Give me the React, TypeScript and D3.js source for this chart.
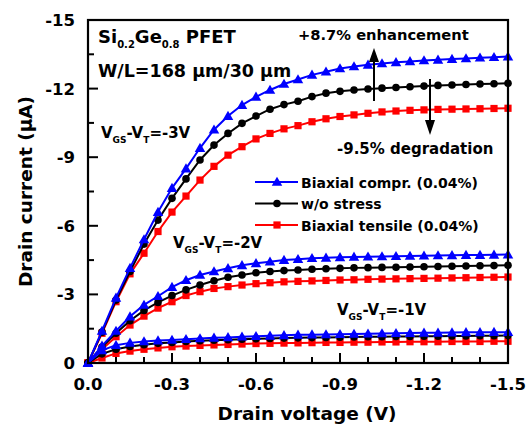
import React from "react";
import * as d3 from "d3";

const voltage = [0, -0.05, -0.1, -0.15, -0.2, -0.25, -0.3, -0.35, -0.4, -0.45, -0.5, -0.55, -0.6, -0.65, -0.7, -0.75, -0.8, -0.85, -0.9, -0.95, -1.0, -1.05, -1.1, -1.15, -1.2, -1.25, -1.3, -1.35, -1.4, -1.45, -1.5];

const compr3 = [0, -1.4, -2.85, -4.15, -5.4, -6.6, -7.65, -8.5, -9.4, -10.2, -10.8, -11.28, -11.64, -11.94, -12.2, -12.4, -12.6, -12.74, -12.88, -12.97, -13.04, -13.1, -13.15, -13.19, -13.23, -13.26, -13.29, -13.32, -13.35, -13.37, -13.4];
const none3 = [0, -1.35, -2.75, -4.0, -5.2, -6.25, -7.2, -8.05, -8.88, -9.53, -10.04, -10.48, -10.8, -11.1, -11.3, -11.45, -11.65, -11.8, -11.88, -11.94, -11.98, -12.02, -12.05, -12.08, -12.11, -12.14, -12.16, -12.18, -12.2, -12.21, -12.23];
const tens3 = [0, -1.3, -2.68, -3.9, -4.8, -5.75, -6.6, -7.3, -8.0, -8.6, -9.09, -9.46, -9.8, -10.04, -10.24, -10.38, -10.55, -10.68, -10.78, -10.85, -10.92, -10.98, -11.02, -11.05, -11.07, -11.09, -11.1, -11.11, -11.12, -11.13, -11.14];

const compr2 = [0, -0.75, -1.4, -2.03, -2.54, -2.92, -3.32, -3.62, -3.85, -4.0, -4.14, -4.27, -4.36, -4.43, -4.5, -4.54, -4.58, -4.6, -4.62, -4.64, -4.65, -4.66, -4.67, -4.68, -4.69, -4.7, -4.71, -4.72, -4.72, -4.73, -4.74];
const none2 = [0, -0.7, -1.3, -1.85, -2.3, -2.65, -2.95, -3.2, -3.41, -3.6, -3.75, -3.85, -3.95, -4.0, -4.04, -4.07, -4.1, -4.12, -4.14, -4.16, -4.17, -4.18, -4.19, -4.2, -4.21, -4.22, -4.23, -4.24, -4.25, -4.26, -4.27];
const tens2 = [0, -0.6, -1.15, -1.66, -2.05, -2.4, -2.68, -2.95, -3.12, -3.26, -3.34, -3.41, -3.47, -3.51, -3.55, -3.57, -3.59, -3.61, -3.63, -3.64, -3.66, -3.67, -3.68, -3.69, -3.7, -3.71, -3.72, -3.73, -3.74, -3.75, -3.76];

const compr1 = [0, -0.55, -0.78, -0.88, -0.94, -0.98, -1.01, -1.04, -1.07, -1.1, -1.12, -1.15, -1.17, -1.19, -1.21, -1.23, -1.24, -1.25, -1.26, -1.27, -1.28, -1.29, -1.3, -1.31, -1.32, -1.32, -1.33, -1.34, -1.34, -1.35, -1.35];
const none1 = [0, -0.4, -0.6, -0.72, -0.8, -0.86, -0.9, -0.94, -0.97, -1.0, -1.02, -1.04, -1.06, -1.07, -1.09, -1.1, -1.11, -1.12, -1.13, -1.14, -1.15, -1.15, -1.16, -1.16, -1.17, -1.17, -1.18, -1.18, -1.19, -1.19, -1.2];
const tens1 = [0, -0.22, -0.42, -0.52, -0.6, -0.66, -0.71, -0.74, -0.77, -0.79, -0.81, -0.83, -0.85, -0.86, -0.87, -0.88, -0.89, -0.9, -0.9, -0.91, -0.91, -0.92, -0.92, -0.93, -0.93, -0.93, -0.94, -0.94, -0.94, -0.95, -0.95];

const xTicks = [0, -0.3, -0.6, -0.9, -1.2, -1.5];
const xTickLabels = ["0.0", "-0.3", "-0.6", "-0.9", "-1.2", "-1.5"];
const xMinor = [-0.1, -0.2, -0.4, -0.5, -0.7, -0.8, -1.0, -1.1, -1.3, -1.4];
const yTicks = [0, -3, -6, -9, -12, -15];
const yTickLabels = ["0", "-3", "-6", "-9", "-12", "-15"];
const yMinor = [-1.5, -4.5, -7.5, -10.5, -13.5];

const legendLabels = ["Biaxial compr. (0.04%)", "w/o stress", "Biaxial tensile (0.04%)"];

const FONT = "'DejaVu Sans', Verdana, sans-serif";

export default function App() {
  const W = 529, H = 428;
  const x = d3.scaleLinear().domain([0, -1.5]).range([88, 508]);
  const y = d3.scaleLinear().domain([0, -15]).range([363, 20]);
  const [x0, x1] = x.range();
  const [y0, y1] = y.range();

  const line = d3.line<number>().x((_, i) => x(voltage[i])).y((d) => y(d));

  const series = [
    { data: [tens3, tens2, tens1], color: "#ff0000", kind: "square" },
    { data: [none3, none2, none1], color: "#000000", kind: "circle" },
    { data: [compr3, compr2, compr1], color: "#0000ff", kind: "triangle" },
  ];

  const tri = d3.symbol().type(d3.symbolTriangle).size(48)() as string;

  const marker = (kind: string, cx: number, cy: number, color: string, key: string) => {
    if (kind === "circle") return <circle key={key} cx={cx} cy={cy} r={3.8} fill={color} />;
    if (kind === "square") return <rect key={key} x={cx - 3.6} y={cy - 3.6} width={7.2} height={7.2} fill={color} />;
    return <path key={key} d={tri} transform={`translate(${cx},${cy + 0.8})`} fill={color} />;
  };

  const vgs = (tx: number, ty: number, val: string) => (
    <text x={tx} y={ty} fontSize={15} fontWeight="bold" fontFamily={FONT}>
      V<tspan fontSize={9} dy={5}>GS</tspan>
      <tspan dy={-5}>-V</tspan>
      <tspan fontSize={9} dy={5}>T</tspan>
      <tspan dy={-5}>={val}</tspan>
    </text>
  );

  const legendRows = [
    { color: "#0000ff", kind: "triangle" },
    { color: "#000000", kind: "circle" },
    { color: "#ff0000", kind: "square" },
  ];

  return (
    <svg width={W} height={H} style={{ position: "absolute", left: 0, top: 0, background: "#fff" }}>
      {series.map((s, si) =>
        s.data.map((d, di) => (
          <g key={`s${si}-${di}`}>
            <path d={line(d) as string} fill="none" stroke={s.color} strokeWidth={2} />
            {d.map((v, i) => marker(s.kind, x(voltage[i]), y(v), s.color, `m${si}-${di}-${i}`))}
          </g>
        ))
      )}

      <rect x={x0} y={y1} width={x1 - x0} height={y0 - y1} fill="none" stroke="#000" strokeWidth={2.2} />

      {xTicks.map((t, i) => (
        <g key={`xt${i}`}>
          <line x1={x(t)} x2={x(t)} y1={y0} y2={y0 - 10} stroke="#000" strokeWidth={2} />
          <text x={x(t)} y={y0 + 27} textAnchor="middle" fontSize={16.5} fontWeight="bold" fontFamily={FONT}>{xTickLabels[i]}</text>
        </g>
      ))}
      {xMinor.map((t, i) => (
        <line key={`xm${i}`} x1={x(t)} x2={x(t)} y1={y0} y2={y0 - 6} stroke="#000" strokeWidth={2} />
      ))}
      {yTicks.map((t, i) => (
        <g key={`yt${i}`}>
          <line x1={x0} x2={x0 + 10} y1={y(t)} y2={y(t)} stroke="#000" strokeWidth={2} />
          <text x={x0 - 13} y={y(t) + 6} textAnchor="end" fontSize={16.5} fontWeight="bold" fontFamily={FONT}>{yTickLabels[i]}</text>
        </g>
      ))}
      {yMinor.map((t, i) => (
        <line key={`ym${i}`} x1={x0} x2={x0 + 6} y1={y(t)} y2={y(t)} stroke="#000" strokeWidth={2} />
      ))}

      <text x={(x0 + x1) / 2 + 9} y={420} textAnchor="middle" fontSize={18.5} fontWeight="bold" fontFamily={FONT}>Drain voltage (V)</text>
      <text transform={`translate(32,${(y0 + y1) / 2}) rotate(-90)`} textAnchor="middle" fontSize={18.5} fontWeight="bold" fontFamily={FONT}>Drain current (μA)</text>

      <text x={98} y={43} fontSize={18} fontWeight="bold" fontFamily={FONT}>
        Si<tspan fontSize={10} dy={5}>0.2</tspan><tspan dy={-5}>Ge</tspan><tspan fontSize={10} dy={5}>0.8</tspan><tspan dy={-5}> PFET</tspan>
      </text>
      <text x={98} y={77} fontSize={17.5} fontWeight="bold" fontFamily={FONT}>W/L=168 μm/30 μm</text>
      {vgs(101, 138, "-3V")}
      {vgs(173, 248, "-2V")}
      {vgs(337, 315, "-1V")}
      <text x={298} y={40} fontSize={14.7} fontWeight="bold" fontFamily={FONT}>+8.7% enhancement</text>
      <text x={337} y={154} fontSize={15} fontWeight="bold" fontFamily={FONT}>-9.5% degradation</text>

      <line x1={374} x2={374} y1={101} y2={60} stroke="#000" strokeWidth={2} />
      <path d="M369,62 L374,48 L379,62 Z" fill="#000" />
      <line x1={430} x2={430} y1={79} y2={122} stroke="#000" strokeWidth={2} />
      <path d="M425,120 L430,135 L435,120 Z" fill="#000" />

      {legendRows.map((r, i) => {
        const ly = 182 + i * 21.5;
        return (
          <g key={`lg${i}`}>
            <line x1={255} x2={298} y1={ly} y2={ly} stroke={r.color} strokeWidth={2} />
            {marker(r.kind, 277, ly, r.color, `lm${i}`)}
            <text x={301} y={ly + 5.5} fontSize={14} fontWeight="bold" fontFamily={FONT}>{legendLabels[i]}</text>
          </g>
        );
      })}
    </svg>
  );
}
